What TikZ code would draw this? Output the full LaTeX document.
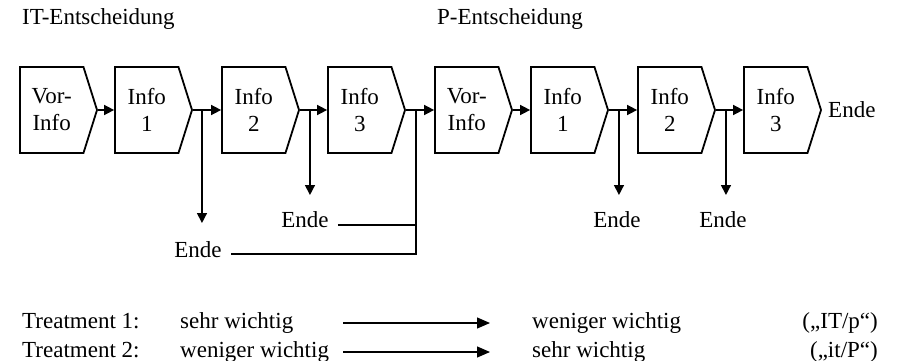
\documentclass[tikz,border=0pt]{standalone}
\usepackage{fontspec}
\setmainfont{Liberation Serif}
\usetikzlibrary{shapes.symbols,arrows.meta}
\begin{document}
\begin{tikzpicture}[x=1pt,y=-1pt,
  font=\fontsize{23}{27}\selectfont,
  box/.style={draw, line width=1.8pt, shape=signal, signal to=east, signal from=nowhere,
    signal pointer angle=145, minimum width=77pt, minimum height=86pt, inner sep=0pt,
    align=center},
  lbl/.style={inner sep=0pt},
  arr/.style={line width=1.5pt, -{Triangle[length=10pt,width=10pt]}},
  conn/.style={line width=1.2pt},
  barr/.style={line width=1.2pt, -{Triangle[length=13pt,width=11pt]}}]
\useasboundingbox (0,0) rectangle (899,361);
% titles
\node[lbl, anchor=base west] (t1) at (22,25) {IT-Entscheidung};
\node[lbl, anchor=base west] (t2) at (437,25) {P-Entscheidung};
% boxes
\node[box] (b1) at (51.75,110) {Vor-\\Info};
\node[box] (b2) at (146.75,110) {Info\\1};
\node[box] (b3) at (253.75,110) {Info\\2};
\node[box] (b4) at (359.75,110) {Info\\3};
\node[box] (b5) at (466.75,110) {Vor-\\Info};
\node[box] (b6) at (562.75,110) {Info\\1};
\node[box] (b7) at (669.75,110) {Info\\2};
\node[box] (b8) at (775.75,110) {Info\\3};
\node[lbl, anchor=base west] (eR) at (828,117) {Ende};
% main arrows
\draw[arr] (b1.east) -- (b2.west);
\draw[arr] (b2.east) -- (b3.west);
\draw[arr] (b3.east) -- (b4.west);
\draw[arr] (b4.east) -- (b5.west);
\draw[arr] (b5.east) -- (b6.west);
\draw[arr] (b6.east) -- (b7.west);
\draw[arr] (b7.east) -- (b8.west);
% Ende labels
\node[lbl, anchor=base] (e1) at (198,257) {Ende};
\node[lbl, anchor=base] (e2) at (305,227) {Ende};
\node[lbl, anchor=base] (e3) at (617,227) {Ende};
\node[lbl, anchor=base] (e4) at (723,227) {Ende};
% branch points
\coordinate (j1) at ([xshift=9pt]b2.east);
\coordinate (j2) at ([xshift=10pt]b3.east);
\coordinate (j3) at ([xshift=10pt]b4.east);
\coordinate (j4) at ([xshift=10pt]b6.east);
\coordinate (j5) at ([xshift=10pt]b7.east);
\coordinate (d1) at (j1 |- 0,223);
\coordinate (d2) at (j2 |- 0,195);
\coordinate (d4) at (j4 |- 0,195);
\coordinate (d5) at (j5 |- 0,195);
\draw[arr] (j1) -- (d1);
\draw[arr] (j2) -- (d2);
\draw[arr] (j4) -- (d4);
\draw[arr] (j5) -- (d5);
\coordinate (h1) at ([xshift=9pt,yshift=3pt]e1.base east);
\coordinate (h2) at ([xshift=9pt,yshift=2pt]e2.base east);
\draw[conn] (j3) |- (h1);
\draw[conn] (h2) -- (h2 -| j3);
% treatments
\node[lbl, anchor=base west] (tr1) at (22,328) {Treatment 1:};
\node[lbl, anchor=base west] (tr2) at (22,357) {Treatment 2:};
\node[lbl, anchor=base west] (s1) at (180,328) {sehr wichtig};
\node[lbl, anchor=base west] (s2) at (180,357) {weniger wichtig};
\node[lbl, anchor=base west] (w1) at (532,328) {weniger wichtig};
\node[lbl, anchor=base west] (w2) at (532,357) {sehr wichtig};
\node[lbl, anchor=base east] (p1) at (878,328) {(„IT/p“)};
\node[lbl, anchor=base east] (p2) at (878,357) {(„it/P“)};
\coordinate (l1) at (343,323);
\coordinate (r1) at (490,323);
\coordinate (l2) at (343,352);
\coordinate (r2) at (490,352);
\draw[barr] (l1) -- (r1);
\draw[barr] (l2) -- (r2);
\end{tikzpicture}
\end{document}
